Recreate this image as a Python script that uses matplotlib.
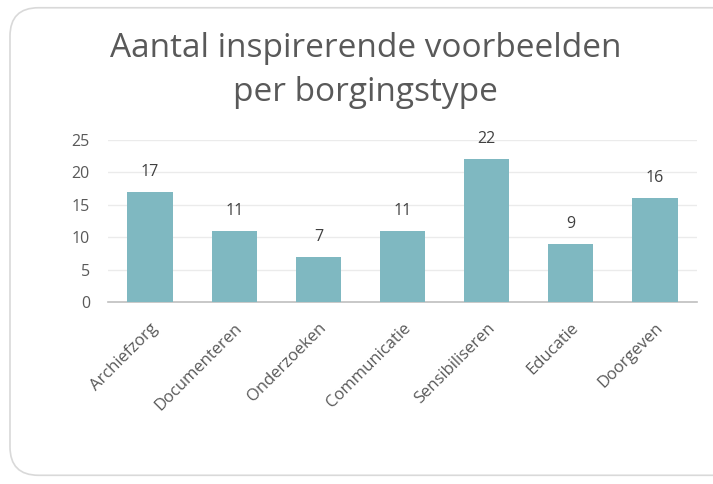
import matplotlib.pyplot as plt
from matplotlib.patches import FancyBboxPatch

categories = ['Archiefzorg', 'Documenteren', 'Onderzoeken', 'Communicatie',
              'Sensibiliseren', 'Educatie', 'Doorgeven']
values = [17, 11, 7, 11, 22, 9, 16]
yticks = [0, 5, 10, 15, 20, 25]

plt.rcParams['font.family'] = ['Open Sans', 'DejaVu Sans']

fig = plt.figure(figsize=(7.13, 4.84), dpi=100)

# rounded chart frame like the Excel chart area
frame = FancyBboxPatch((0.014, 0.018), 1.1, 0.966, boxstyle='round,pad=0,rounding_size=0.04',
                       transform=fig.transFigure, facecolor='none', edgecolor='#D9D9D9',
                       linewidth=1.2, mutation_aspect=713 / 484, zorder=-1)
fig.patches.append(frame)

ax = fig.add_axes([0.1515, 0.376, 0.826, 0.335])
ax.patch.set_alpha(0)
x = range(len(categories))
ax.bar(x, values, width=0.54, color='#7FB8C1', zorder=3)

for xi, v in zip(x, values):
    ax.annotate(str(v), (xi, v), xytext=(0, 11.5), textcoords='offset points',
                ha='center', va='baseline', fontsize=11.5, color='#404040')

ax.set_xlim(-0.5, len(categories) - 0.5)
ax.set_ylim(0, 25)
ax.set_yticks(yticks)
ax.grid(axis='y', color='#EBEBEB', linewidth=1, zorder=0)
ax.set_axisbelow(True)
for s in ['top', 'right', 'left']:
    ax.spines[s].set_visible(False)
ax.spines['bottom'].set_color('#BFBFBF')
ax.spines['bottom'].set_linewidth(1.2)
ax.tick_params(axis='both', length=0, colors='#595959', labelsize=11.5)
ax.tick_params(axis='y', pad=13)
ax.tick_params(axis='x', pad=13, labelsize=12)

ax.set_xticks(list(x))
ax.set_xticklabels(categories, rotation=45, ha='right', rotation_mode='anchor')

fig.text(0.513, 0.854, 'Aantal inspirerende voorbeelden\nper borgingstype', ha='center', va='center',
         fontsize=24, color='#595959', linespacing=1.45)

fig.savefig('out.png', dpi=100, facecolor='white')
